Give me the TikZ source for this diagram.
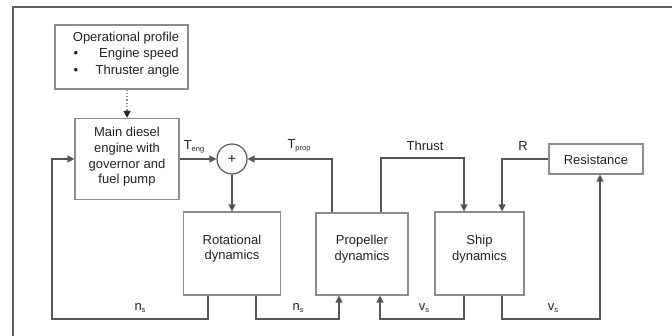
\documentclass[tikz,border=0pt]{standalone}
\usepackage{fontspec}
\setmainfont{Liberation Sans}
\usetikzlibrary{arrows.meta}
\definecolor{boxgray}{HTML}{8C8C8C}
\definecolor{linegray}{HTML}{555555}
\definecolor{txt}{HTML}{222222}
\definecolor{framegray}{HTML}{606060}
\newcommand{\lsub}[1]{\raisebox{-2.5pt}{\fontsize{7.5}{7.5}\selectfont #1}}
\begin{document}
\begin{tikzpicture}[x=1pt,y=-1pt,
  font=\fontsize{13}{15.7}\selectfont,
  box/.style={draw=boxgray, line width=1.2pt, fill=white, inner sep=0pt},
  conn/.style={draw=linegray, line width=1.3pt},
  arr/.style={conn, -{Triangle[length=7pt,width=7pt]}},
  lbl/.style={inner sep=0pt, text=txt, align=center}]
\useasboundingbox (0,0) rectangle (672,336);
% frame
\coordinate (ftr) at (672,7);
\coordinate (ftl) at (13,7);
\coordinate (fbl) at (13,336);
\draw[framegray, line width=2pt] (ftr) -- (ftl) -- (fbl);

% boxes
\node[box, minimum width=133pt, minimum height=64pt] (op) at (121.5,57) {};
\node[lbl] (opt) at (126,38) {Operational profile};
\node[lbl] (b1) at (76,54) {\textbullet};
\node[lbl] (es) at (139,54) {Engine speed};
\node[lbl] (b2) at (76,71) {\textbullet};
\node[lbl] (ta) at (137.5,71) {Thruster angle};

\node[box, minimum width=104pt, minimum height=81pt] (main) at (127,159) {};
\node[lbl] (maint) at (127,157) {Main diesel\\engine with\\governor and\\fuel pump};

\node[draw=linegray, line width=1.2pt, circle, minimum size=30pt, inner sep=0pt, text=txt, font=\fontsize{14}{14}\selectfont] (sum) at (232,159) {+};

\node[box, minimum width=97pt, minimum height=83pt] (rot) at (232,253.5) {};
\node[lbl] (rott) at (232,248.5) {Rotational\\dynamics};
\node[box, minimum width=92pt, minimum height=82pt] (prop) at (362,254) {};
\node[lbl] (propt) at (362,249) {Propeller\\dynamics};
\node[box, minimum width=89pt, minimum height=83pt] (ship) at (479.5,253.5) {};
\node[lbl] (shipt) at (479.5,249) {Ship\\dynamics};
\node[box, minimum width=94pt, minimum height=30pt] (res) at (596,159) {};
\node[lbl] (rest) at (596,159.5) {Resistance};

% ports
\coordinate (ptp) at ([xshift=-30pt]prop.north);
\coordinate (pth) at ([xshift=19pt]prop.north);
\coordinate (sth) at ([xshift=-15.5pt]ship.north);
\coordinate (sr) at ([xshift=22.5pt]ship.north);
\coordinate (rout1) at ([xshift=-24pt]rot.south);
\coordinate (rout2) at ([xshift=24pt]rot.south);
\coordinate (pin1) at ([xshift=-23pt]prop.south);
\coordinate (pin2) at ([xshift=18pt]prop.south);
\coordinate (sout1) at ([xshift=-15.5pt]ship.south);
\coordinate (sout2) at ([xshift=22.5pt]ship.south);
\coordinate (rin) at ([xshift=4pt]res.south);
\coordinate (bl) at (52,319);
\coordinate (br) at (600,319);
\coordinate (tlev) at (0,158);

% connectors
\draw[draw=boxgray, line width=1.3pt, dotted, -{Triangle[length=7pt,width=7pt,color=txt]}] (op.south -| main.north) -- (main.north);
\draw[arr] (main.east) -- (sum.west);
\draw[arr] (sum.south) -- (rot.north);
\draw[arr] (ptp) |- (sum.east);
\draw[arr] (pth) |- (tlev -| sth) -- (sth);
\draw[arr] (res.west) -| (sr);
\draw[arr] (rout1) |- (bl) |- (main.west);
\draw[arr] (rout2) |- (pin1 |- bl) -- (pin1);
\draw[arr] (sout1) |- (pin2 |- bl) -- (pin2);
\draw[arr] (sout2) |- (br) -- (rin);

% labels
\node[lbl] (lteng) at (194,147) {T\lsub{eng}};
\node[lbl] (ltprop) at (299,146) {T\lsub{prop}};
\node[lbl] (lthrust) at (425,146) {Thrust};
\node[lbl] (lr) at (523,146) {R};
\node[lbl] (lns1) at (140,308) {n\lsub{s}};
\node[lbl] (lns2) at (298,308) {n\lsub{s}};
\node[lbl] (lvs1) at (424,308) {v\lsub{s}};
\node[lbl] (lvs2) at (553,308) {v\lsub{s}};
\end{tikzpicture}
\end{document}
